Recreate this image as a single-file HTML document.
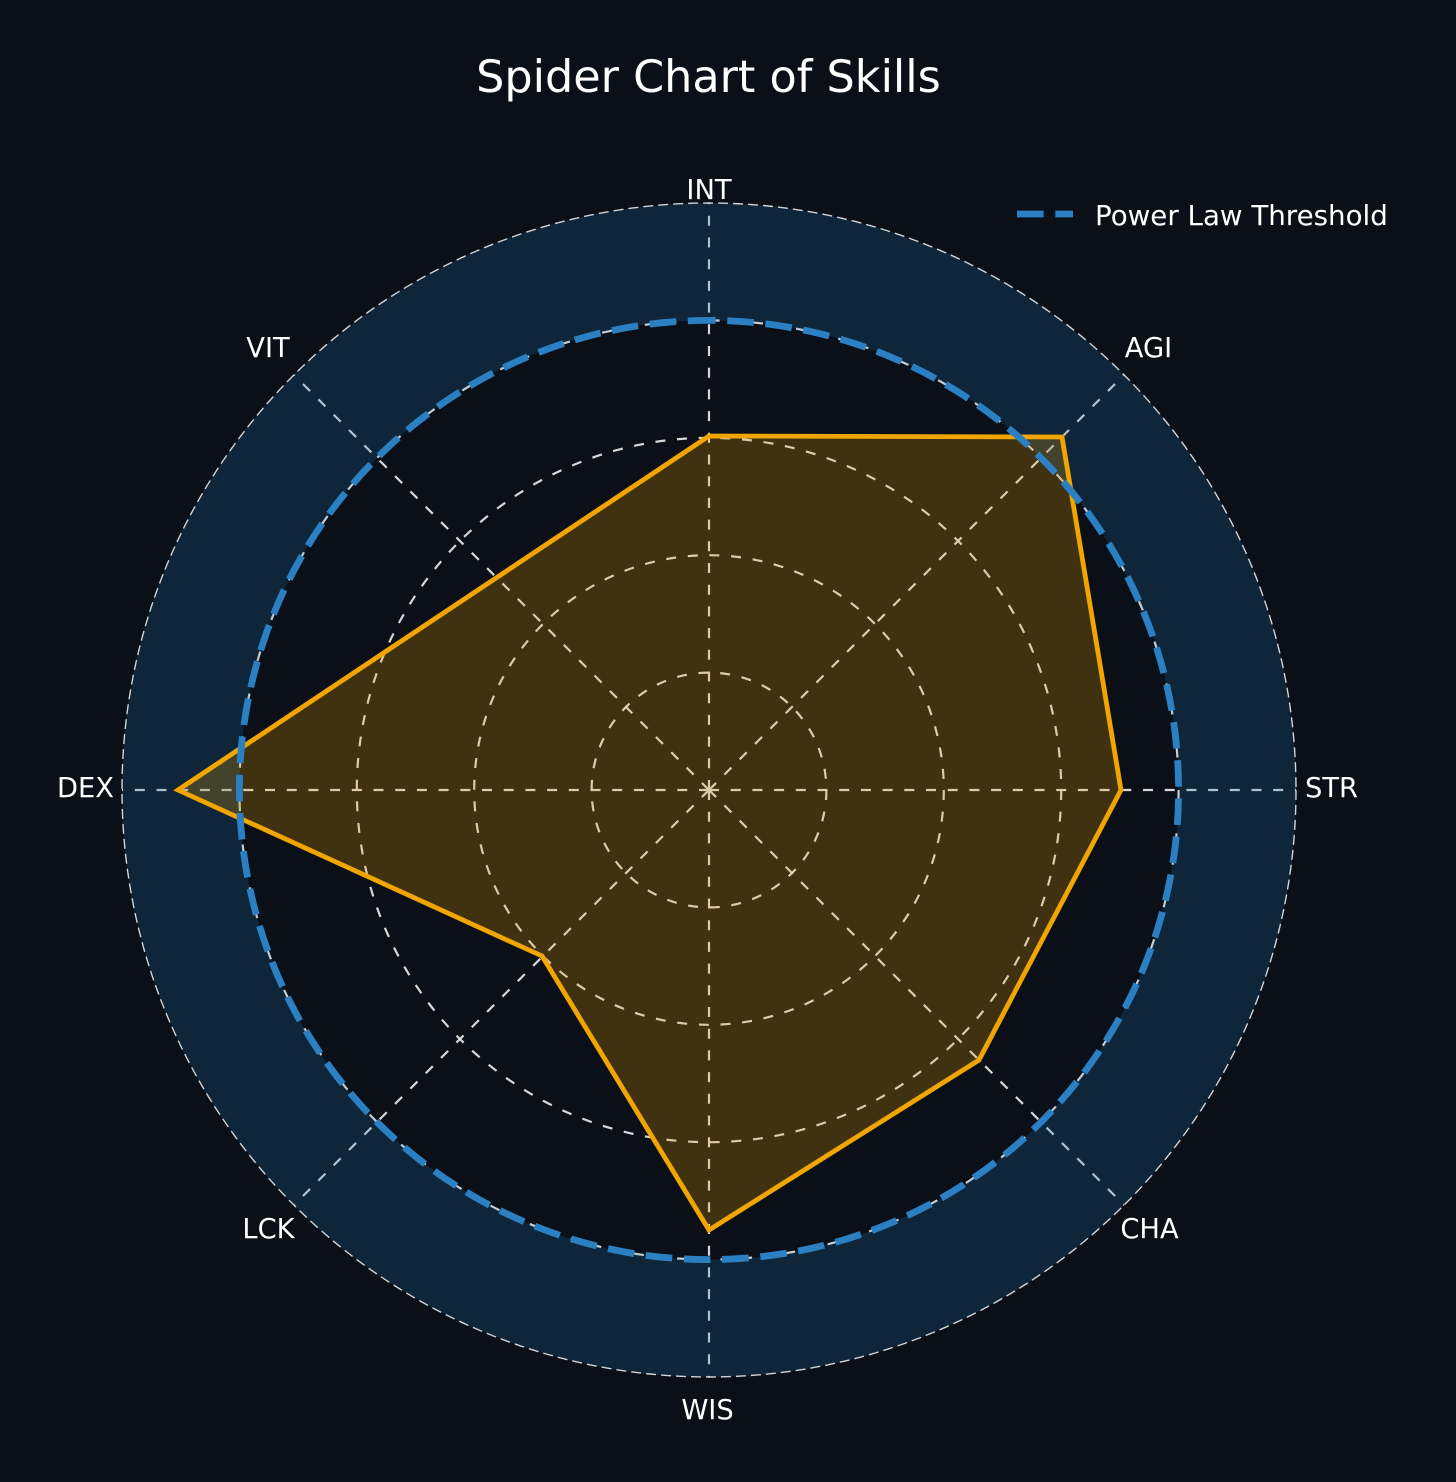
<!DOCTYPE html>
<html>
<head>
<meta charset="utf-8">
<style>
html,body{margin:0;padding:0;background:#0b0f17;}
svg{display:block;}
text{font-family:"DejaVu Sans","Liberation Sans",sans-serif;fill:#ffffff;}
</style>
</head>
<body>
<svg width="1456" height="1482" viewBox="0 0 1456 1482" xmlns="http://www.w3.org/2000/svg">
  <rect x="0" y="0" width="1456" height="1482" fill="#0b0f17"/>

  <!-- grid circles -->
  <g fill="none" stroke="#e2e2e2" stroke-width="2.2" stroke-dasharray="10 11.7" opacity="0.95">
    <circle cx="709" cy="790" r="117.4"/>
    <circle cx="709" cy="790" r="234.8"/>
    <circle cx="709" cy="790" r="352.2"/>
    <circle cx="709" cy="790" r="469.6"/>
  </g>
  <!-- radial lines -->
  <g stroke="#e2e2e2" stroke-width="2.2" stroke-dasharray="10 11.7" opacity="0.95">
    <line x1="709" y1="790" x2="709" y2="203"/>
    <line x1="709" y1="790" x2="1124.1" y2="374.9"/>
    <line x1="709" y1="790" x2="1296" y2="790"/>
    <line x1="709" y1="790" x2="1124.1" y2="1205.1"/>
    <line x1="709" y1="790" x2="709" y2="1377"/>
    <line x1="709" y1="790" x2="293.9" y2="1205.1"/>
    <line x1="709" y1="790" x2="122" y2="790"/>
    <line x1="709" y1="790" x2="293.9" y2="374.9"/>
  </g>

  <!-- blue band -->
  <path fill="#1f77b4" fill-opacity="0.22" fill-rule="evenodd"
    d="M709 203 A587 587 0 1 1 709 1377 A587 587 0 1 1 709 203 Z
       M709 320.4 A469.6 469.6 0 1 0 709 1259.6 A469.6 469.6 0 1 0 709 320.4 Z"/>

  <!-- outer spine -->
  <circle cx="709" cy="790" r="587" fill="none" stroke="#e8e8e8" stroke-width="1.4" stroke-dasharray="10 5" opacity="0.9"/>

  <!-- data polygon -->
  <polygon points="709,436 1062,437 1121,790 979,1060 709,1230 542,956 178,790 496.6,577.6"
    fill="#f0a500" fill-opacity="0.23" stroke="#f0a500" stroke-width="4.8" stroke-linejoin="miter"/>

  <!-- threshold circle -->
  <path d="M709 320.4 A469.6 469.6 0 1 1 709 1259.6 A469.6 469.6 0 1 1 709 320.4"
    fill="none" stroke="#2a80c2" stroke-width="6.8" stroke-dasharray="26.6 11.7" stroke-dashoffset="20"/>

  <!-- axis labels -->
  <g font-size="27.3">
    <text x="709" y="199" text-anchor="middle">INT</text>
    <text x="1148.5" y="357" text-anchor="middle">AGI</text>
    <text x="1305" y="797" text-anchor="start">STR</text>
    <text x="1149.5" y="1238" text-anchor="middle">CHA</text>
    <text x="707.5" y="1419" text-anchor="middle">WIS</text>
    <text x="268.5" y="1238" text-anchor="middle">LCK</text>
    <text x="114" y="797" text-anchor="end">DEX</text>
    <text x="268" y="357" text-anchor="middle">VIT</text>
  </g>

  <!-- title -->
  <text x="708.5" y="92" text-anchor="middle" font-size="44.5">Spider Chart of Skills</text>

  <!-- legend -->
  <line x1="1017" y1="214" x2="1073" y2="214" stroke="#2a80c2" stroke-width="6.8" stroke-dasharray="26.6 11.7"/>
  <text x="1095" y="225" font-size="27.7">Power Law Threshold</text>
</svg>
</body>
</html>
